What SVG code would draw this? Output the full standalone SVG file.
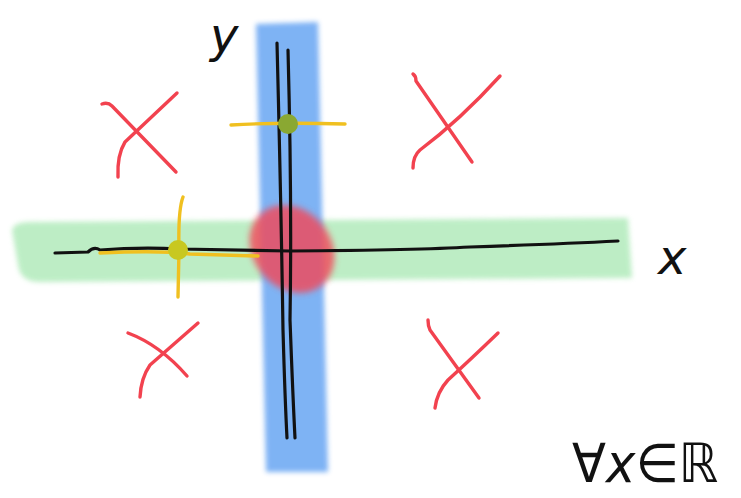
<svg xmlns="http://www.w3.org/2000/svg" width="741" height="498" viewBox="0 0 741 498">
<style>
.ink{fill:none;stroke:#111;stroke-width:3.2;stroke-linecap:round;stroke-linejoin:round}
.red{fill:none;stroke:#f2424f;stroke-width:3.4;stroke-linecap:round;stroke-linejoin:round}
.yel{fill:none;stroke:#f0c020;stroke-width:3.4;stroke-linecap:round}
.lbl{font-family:"DejaVu Sans","Liberation Sans",sans-serif;fill:#111;font-style:italic}
</style>
<defs>
<filter id="soft" x="-10%" y="-10%" width="120%" height="120%"><feGaussianBlur stdDeviation="2.5"/></filter>
<filter id="soft2" x="-20%" y="-20%" width="140%" height="140%"><feGaussianBlur stdDeviation="3"/></filter>
</defs>
<rect width="741" height="498" fill="#fff"/>
<g id="bands">
<path d="M12,230 Q14,222 30,222 L628,218 L632,278 L40,282 Q20,282 18,265 Z" fill="#b6ecbf" opacity="0.9" filter="url(#soft)"/>
<path d="M256,24 L318,22 L328,472 L266,472 Z" fill="#78aff4" opacity="0.95" filter="url(#soft)"/>
<ellipse cx="292" cy="249" rx="47" ry="39" transform="rotate(50 292 249)" fill="#f2485a" opacity="0.82" filter="url(#soft2)"/>
</g>
<g id="axes">
<path class="ink" d="M55,253 L88,252 Q94,246 100,250 Q140,247 180,249 L290,251 Q420,250 470,247 Q560,244 618,241"/>
<path class="ink" d="M277,43 Q281,200 283,330 Q285,400 287,438"/>
<path class="ink" d="M288,50 Q292,200 290,320 Q293,400 295,438"/>
</g>
<g id="yellow-crosses">
<path class="yel" d="M100,253 Q160,250 190,254 L258,256"/>
<path class="yel" d="M183,197 Q178,210 179,250 L178,297"/>
<circle cx="178" cy="250" r="10" fill="#c8c820"/>
<path class="yel" d="M231,125 Q280,122 345,124"/>
<circle cx="288" cy="124" r="10" fill="#8aa832"/>
</g>
<g id="red-crosses">
<path class="red" d="M102,104 Q108,102 112,106 L176,172"/>
<path class="red" d="M177,93 L125,142 Q117,155 118,177"/>
<path class="red" d="M413,74 Q416,76 416,81 L472,162"/>
<path class="red" d="M500,76 Q460,120 420,150 Q413,156 413,168"/>
<path class="red" d="M128,333 Q160,345 187,376"/>
<path class="red" d="M198,323 L150,365 Q141,378 140,397"/>
<path class="red" d="M428,320 Q428,326 430,330 L479,398"/>
<path class="red" d="M498,333 Q470,360 448,380 Q437,392 435,408"/>
</g>
<g id="labels">
<text class="lbl" x="210" y="52" font-size="48">y</text>
<text class="lbl" x="658" y="274" font-size="48">x</text>
<text class="lbl" x="572" y="482" font-size="54" textLength="146" lengthAdjust="spacingAndGlyphs">∀x∈ℝ</text>
</g>
</svg>
